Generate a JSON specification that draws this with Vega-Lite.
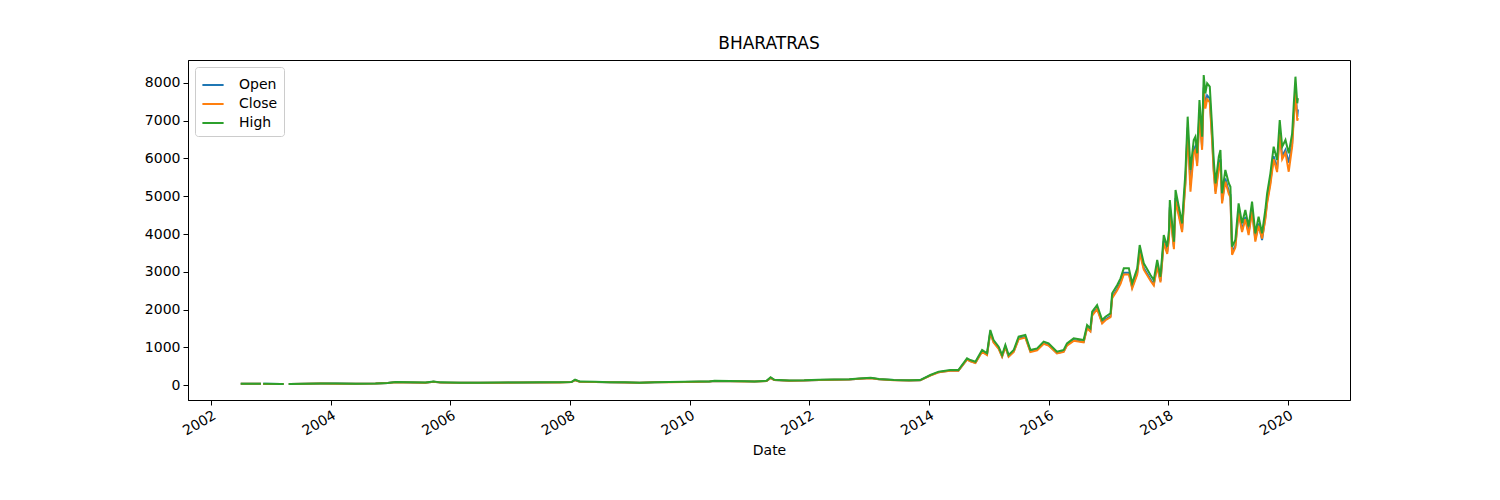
{
  "$schema": "https://vega.github.io/schema/vega-lite/v6.json",
  "autosize": "none",
  "width": 1162,
  "height": 340,
  "padding": {"left": 188, "top": 60, "right": 150, "bottom": 100},
  "background": "white",
  "title": {"text": "BHARATRAS", "fontSize": 17, "fontWeight": "normal", "font": "DejaVu Sans", "color": "black", "offset": 7},
  "data": {
    "values": [
      {"Date": "2002-07-01", "Open": 34, "Close": 33, "High": 35},
      {"Date": "2002-09-01", "Open": 32, "Close": 31, "High": 33},
      {"Date": "2002-11-01", "Open": 31, "Close": 31, "High": 32},
      {"Date": "2002-11-08", "Open": null, "Close": null, "High": null},
      {"Date": "2002-11-15", "Open": 31, "Close": 30, "High": 32},
      {"Date": "2002-12-01", "Open": 31, "Close": 30, "High": 32},
      {"Date": "2003-03-01", "Open": 29, "Close": 28, "High": 30},
      {"Date": "2003-03-20", "Open": 29, "Close": 28, "High": 30},
      {"Date": "2003-04-05", "Open": null, "Close": null, "High": null},
      {"Date": "2003-04-20", "Open": 29, "Close": 29, "High": 30},
      {"Date": "2003-05-01", "Open": 29, "Close": 29, "High": 30},
      {"Date": "2003-08-01", "Open": 34, "Close": 33, "High": 35},
      {"Date": "2003-11-01", "Open": 39, "Close": 38, "High": 40},
      {"Date": "2004-02-01", "Open": 37, "Close": 36, "High": 38},
      {"Date": "2004-06-01", "Open": 34, "Close": 33, "High": 35},
      {"Date": "2004-10-01", "Open": 39, "Close": 38, "High": 40},
      {"Date": "2004-12-15", "Open": 53, "Close": 52, "High": 55},
      {"Date": "2005-02-01", "Open": 77, "Close": 76, "High": 80},
      {"Date": "2005-05-01", "Open": 68, "Close": 67, "High": 70},
      {"Date": "2005-08-01", "Open": 63, "Close": 62, "High": 65},
      {"Date": "2005-09-20", "Open": 86, "Close": 85, "High": 90},
      {"Date": "2005-11-01", "Open": 68, "Close": 67, "High": 70},
      {"Date": "2006-03-01", "Open": 58, "Close": 57, "High": 60},
      {"Date": "2006-07-01", "Open": 60, "Close": 59, "High": 62},
      {"Date": "2006-11-01", "Open": 63, "Close": 62, "High": 65},
      {"Date": "2007-03-01", "Open": 66, "Close": 65, "High": 68},
      {"Date": "2007-07-01", "Open": 68, "Close": 67, "High": 70},
      {"Date": "2007-11-01", "Open": 70, "Close": 69, "High": 72},
      {"Date": "2008-01-10", "Open": 78, "Close": 77, "High": 80},
      {"Date": "2008-02-01", "Open": 130, "Close": 128, "High": 140},
      {"Date": "2008-03-01", "Open": 87, "Close": 85, "High": 90},
      {"Date": "2008-06-01", "Open": 82, "Close": 81, "High": 85},
      {"Date": "2008-09-01", "Open": 72, "Close": 71, "High": 75},
      {"Date": "2008-12-01", "Open": 67, "Close": 66, "High": 70},
      {"Date": "2009-03-01", "Open": 58, "Close": 57, "High": 60},
      {"Date": "2009-06-01", "Open": 72, "Close": 71, "High": 75},
      {"Date": "2009-09-01", "Open": 77, "Close": 76, "High": 80},
      {"Date": "2009-12-01", "Open": 82, "Close": 81, "High": 85},
      {"Date": "2010-03-01", "Open": 87, "Close": 86, "High": 90},
      {"Date": "2010-05-01", "Open": 92, "Close": 91, "High": 95},
      {"Date": "2010-06-01", "Open": 106, "Close": 104, "High": 110},
      {"Date": "2010-09-01", "Open": 101, "Close": 100, "High": 105},
      {"Date": "2010-12-01", "Open": 97, "Close": 96, "High": 100},
      {"Date": "2011-02-01", "Open": 92, "Close": 91, "High": 95},
      {"Date": "2011-04-15", "Open": 106, "Close": 105, "High": 110},
      {"Date": "2011-05-10", "Open": 190, "Close": 185, "High": 205},
      {"Date": "2011-06-01", "Open": 135, "Close": 133, "High": 140},
      {"Date": "2011-09-01", "Open": 116, "Close": 115, "High": 120},
      {"Date": "2011-12-01", "Open": 121, "Close": 120, "High": 125},
      {"Date": "2012-03-01", "Open": 136, "Close": 134, "High": 140},
      {"Date": "2012-06-01", "Open": 140, "Close": 139, "High": 145},
      {"Date": "2012-09-01", "Open": 145, "Close": 144, "High": 150},
      {"Date": "2012-11-01", "Open": 165, "Close": 163, "High": 170},
      {"Date": "2013-01-10", "Open": 183, "Close": 180, "High": 190},
      {"Date": "2013-03-01", "Open": 155, "Close": 153, "High": 160},
      {"Date": "2013-06-01", "Open": 130, "Close": 128, "High": 135},
      {"Date": "2013-09-01", "Open": 120, "Close": 118, "High": 125},
      {"Date": "2013-11-08", "Open": 126, "Close": 124, "High": 132},
      {"Date": "2014-01-09", "Open": 255, "Close": 250, "High": 265},
      {"Date": "2014-03-01", "Open": 340, "Close": 335, "High": 353},
      {"Date": "2014-05-11", "Open": 382, "Close": 378, "High": 397},
      {"Date": "2014-06-29", "Open": 380, "Close": 375, "High": 397},
      {"Date": "2014-08-21", "Open": 680, "Close": 670, "High": 706},
      {"Date": "2014-09-10", "Open": 635, "Close": 625, "High": 662},
      {"Date": "2014-10-11", "Open": 590, "Close": 580, "High": 618},
      {"Date": "2014-11-21", "Open": 895, "Close": 880, "High": 927},
      {"Date": "2014-12-21", "Open": 805, "Close": 795, "High": 839},
      {"Date": "2015-01-10", "Open": 1400, "Close": 1380, "High": 1457},
      {"Date": "2015-01-30", "Open": 1140, "Close": 1125, "High": 1192},
      {"Date": "2015-03-02", "Open": 975, "Close": 960, "High": 1015},
      {"Date": "2015-03-23", "Open": 760, "Close": 750, "High": 795},
      {"Date": "2015-04-12", "Open": 1020, "Close": 1005, "High": 1060},
      {"Date": "2015-05-02", "Open": 760, "Close": 750, "High": 795},
      {"Date": "2015-06-02", "Open": 890, "Close": 875, "High": 927},
      {"Date": "2015-07-02", "Open": 1230, "Close": 1210, "High": 1280},
      {"Date": "2015-08-12", "Open": 1275, "Close": 1255, "High": 1325},
      {"Date": "2015-09-12", "Open": 890, "Close": 875, "High": 927},
      {"Date": "2015-10-23", "Open": 935, "Close": 920, "High": 971},
      {"Date": "2015-12-02", "Open": 1105, "Close": 1090, "High": 1148},
      {"Date": "2016-01-01", "Open": 1060, "Close": 1045, "High": 1104},
      {"Date": "2016-02-21", "Open": 845, "Close": 835, "High": 883},
      {"Date": "2016-04-02", "Open": 890, "Close": 875, "High": 927},
      {"Date": "2016-04-22", "Open": 1060, "Close": 1045, "High": 1104},
      {"Date": "2016-06-02", "Open": 1190, "Close": 1170, "High": 1236},
      {"Date": "2016-08-02", "Open": 1145, "Close": 1130, "High": 1192},
      {"Date": "2016-08-23", "Open": 1530, "Close": 1505, "High": 1589},
      {"Date": "2016-09-12", "Open": 1440, "Close": 1420, "High": 1501},
      {"Date": "2016-09-23", "Open": 1870, "Close": 1840, "High": 1943},
      {"Date": "2016-10-23", "Open": 2040, "Close": 2010, "High": 2119},
      {"Date": "2016-11-23", "Open": 1650, "Close": 1630, "High": 1722},
      {"Date": "2016-12-13", "Open": 1740, "Close": 1715, "High": 1810},
      {"Date": "2017-01-13", "Open": 1825, "Close": 1800, "High": 1898},
      {"Date": "2017-01-23", "Open": 2330, "Close": 2300, "High": 2428},
      {"Date": "2017-02-23", "Open": 2550, "Close": 2510, "High": 2649},
      {"Date": "2017-03-15", "Open": 2720, "Close": 2680, "High": 2826},
      {"Date": "2017-04-04", "Open": 2975, "Close": 2930, "High": 3091},
      {"Date": "2017-05-05", "Open": 2975, "Close": 2930, "High": 3091},
      {"Date": "2017-05-25", "Open": 2590, "Close": 2555, "High": 2694},
      {"Date": "2017-06-25", "Open": 2975, "Close": 2930, "High": 3091},
      {"Date": "2017-07-10", "Open": 3560, "Close": 3500, "High": 3709},
      {"Date": "2017-08-04", "Open": 3100, "Close": 3055, "High": 3223},
      {"Date": "2017-09-14", "Open": 2800, "Close": 2760, "High": 2914},
      {"Date": "2017-10-04", "Open": 2670, "Close": 2635, "High": 2781},
      {"Date": "2017-10-25", "Open": 3180, "Close": 3140, "High": 3311},
      {"Date": "2017-11-14", "Open": 2760, "Close": 2720, "High": 2869},
      {"Date": "2017-12-04", "Open": 3820, "Close": 3770, "High": 3974},
      {"Date": "2017-12-25", "Open": 3520, "Close": 3470, "High": 3664},
      {"Date": "2018-01-05", "Open": 3950, "Close": 3890, "High": 4106},
      {"Date": "2018-01-10", "Open": 4710, "Close": 4650, "High": 4901},
      {"Date": "2018-01-20", "Open": 4280, "Close": 4220, "High": 4459},
      {"Date": "2018-02-04", "Open": 3650, "Close": 3600, "High": 3797},
      {"Date": "2018-02-14", "Open": 4950, "Close": 4880, "High": 5166},
      {"Date": "2018-03-06", "Open": 4540, "Close": 4470, "High": 4724},
      {"Date": "2018-03-26", "Open": 4110, "Close": 4050, "High": 4283},
      {"Date": "2018-04-05", "Open": 4790, "Close": 4720, "High": 4989},
      {"Date": "2018-04-15", "Open": 5380, "Close": 5310, "High": 5608},
      {"Date": "2018-04-29", "Open": 6820, "Close": 6720, "High": 7108},
      {"Date": "2018-05-16", "Open": 5300, "Close": 5121, "High": 5695},
      {"Date": "2018-06-05", "Open": 6230, "Close": 6150, "High": 6490},
      {"Date": "2018-06-15", "Open": 6320, "Close": 6230, "High": 6578},
      {"Date": "2018-06-26", "Open": 5890, "Close": 5800, "High": 6137},
      {"Date": "2018-07-10", "Open": 7250, "Close": 7150, "High": 7550},
      {"Date": "2018-07-26", "Open": 6320, "Close": 6230, "High": 6578},
      {"Date": "2018-08-05", "Open": 7880, "Close": 7780, "High": 8212},
      {"Date": "2018-08-15", "Open": 7420, "Close": 7320, "High": 7727},
      {"Date": "2018-08-26", "Open": 7670, "Close": 7570, "High": 7992},
      {"Date": "2018-09-11", "Open": 7590, "Close": 7490, "High": 7904},
      {"Date": "2018-09-25", "Open": 6570, "Close": 6480, "High": 6843},
      {"Date": "2018-10-05", "Open": 5720, "Close": 5640, "High": 5960},
      {"Date": "2018-10-16", "Open": 5130, "Close": 5060, "High": 5343},
      {"Date": "2018-11-05", "Open": 5810, "Close": 5730, "High": 6048},
      {"Date": "2018-11-15", "Open": 5980, "Close": 5900, "High": 6225},
      {"Date": "2018-11-25", "Open": 4870, "Close": 4810, "High": 5078},
      {"Date": "2018-12-15", "Open": 5470, "Close": 5390, "High": 5695},
      {"Date": "2019-01-05", "Open": 5130, "Close": 5060, "High": 5343},
      {"Date": "2019-01-15", "Open": 5040, "Close": 4970, "High": 5253},
      {"Date": "2019-01-25", "Open": 3520, "Close": 3450, "High": 3664},
      {"Date": "2019-02-14", "Open": 3690, "Close": 3640, "High": 3841},
      {"Date": "2019-03-06", "Open": 4620, "Close": 4560, "High": 4813},
      {"Date": "2019-03-27", "Open": 4110, "Close": 4050, "High": 4283},
      {"Date": "2019-04-16", "Open": 4450, "Close": 4390, "High": 4636},
      {"Date": "2019-05-06", "Open": 4030, "Close": 3970, "High": 4194},
      {"Date": "2019-05-27", "Open": 4660, "Close": 4600, "High": 4856},
      {"Date": "2019-06-16", "Open": 3860, "Close": 3800, "High": 4018},
      {"Date": "2019-07-06", "Open": 4280, "Close": 4220, "High": 4459},
      {"Date": "2019-07-27", "Open": 3840, "Close": 3880, "High": 4018},
      {"Date": "2019-08-16", "Open": 4450, "Close": 4390, "High": 4636},
      {"Date": "2019-08-27", "Open": 4870, "Close": 4810, "High": 5078},
      {"Date": "2019-09-16", "Open": 5380, "Close": 5310, "High": 5608},
      {"Date": "2019-10-06", "Open": 6060, "Close": 5980, "High": 6313},
      {"Date": "2019-10-27", "Open": 5720, "Close": 5640, "High": 5960},
      {"Date": "2019-11-12", "Open": 6740, "Close": 6650, "High": 7020},
      {"Date": "2019-11-27", "Open": 6060, "Close": 5980, "High": 6313},
      {"Date": "2019-12-17", "Open": 6230, "Close": 6150, "High": 6490},
      {"Date": "2020-01-06", "Open": 5890, "Close": 5650, "High": 6137},
      {"Date": "2020-01-27", "Open": 6400, "Close": 6320, "High": 6667},
      {"Date": "2020-02-06", "Open": 7160, "Close": 7070, "High": 7462},
      {"Date": "2020-02-16", "Open": 7840, "Close": 7740, "High": 8167},
      {"Date": "2020-02-27", "Open": 7100, "Close": 7000, "High": 7462},
      {"Date": "2020-03-02", "Open": 7300, "Close": 7070, "High": 7600}
    ]
  },
  "transform": [
    {"fold": ["Open", "Close", "High"], "as": ["series", "value"]}
  ],
  "mark": {"type": "line", "strokeWidth": 2, "invalid": "break-paths-filter-domains"},
  "encoding": {
    "x": {
      "field": "Date",
      "type": "temporal",
      "scale": {"domain": ["2001-08-13", "2021-01-14"]},
      "axis": {
        "title": "Date",
        "format": "%Y",
        "values": ["2002-01-01", "2004-01-01", "2006-01-01", "2008-01-01", "2010-01-01", "2012-01-01", "2014-01-01", "2016-01-01", "2018-01-01", "2020-01-01"],
        "labelAngle": -30,
        "labelAlign": "right",
        "labelBaseline": "top",
        "titlePadding": 6
      }
    },
    "y": {
      "field": "value",
      "type": "quantitative",
      "scale": {"domain": [-397, 8609], "nice": false, "zero": false},
      "axis": {"title": null, "values": [0, 1000, 2000, 3000, 4000, 5000, 6000, 7000, 8000], "format": "d"}
    },
    "color": {
      "field": "series",
      "type": "nominal",
      "sort": ["Open", "Close", "High"],
      "scale": {"domain": ["Open", "Close", "High"], "range": ["#1f77b4", "#ff7f0e", "#2ca02c"]},
      "legend": {
        "title": null,
        "orient": "none",
        "legendX": 7,
        "legendY": 7,
        "symbolType": "stroke",
        "symbolSize": 450,
        "symbolStrokeWidth": 2,
        "labelFontSize": 14,
        "labelFont": "DejaVu Sans",
        "labelColor": "black",
        "labelOffset": 14,
        "rowPadding": 0,
        "padding": 6,
        "fillColor": "white",
        "strokeColor": "#cccccc",
        "cornerRadius": 3
      }
    }
  },
  "config": {
    "font": "DejaVu Sans",
    "view": {"stroke": "black", "strokeWidth": 1},
    "axis": {
      "grid": false,
      "domainColor": "black",
      "tickColor": "black",
      "tickSize": 5,
      "labelFontSize": 14,
      "labelFont": "DejaVu Sans",
      "labelColor": "black",
      "labelPadding": 3,
      "titleFontSize": 14,
      "titleFont": "DejaVu Sans",
      "titleFontWeight": "normal",
      "titleColor": "black"
    }
  }
}
